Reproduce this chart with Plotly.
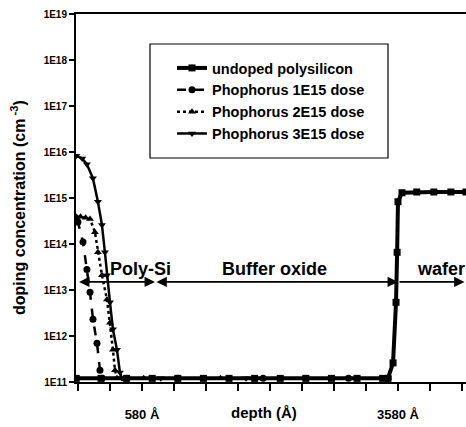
import math
import plotly.graph_objects as go

# ---- data (depth in Angstrom, concentration in cm^-3) ----
undoped_x = [-190, 100, 400, 700, 1000, 1300, 1600, 1900, 2200, 2500, 2800, 3100, 3400, 3463, 3522, 3557, 3570, 3580, 3627, 3800, 4000, 4200, 4377]
undoped_y = [1.2e11, 1.2e11, 1.2e11, 1.2e11, 1.2e11, 1.2e11, 1.2e11, 1.2e11, 1.2e11, 1.2e11, 1.2e11, 1.2e11, 1.2e11, 1.2e11, 2.6e11, 5.4e12, 6.6e13, 8.3e14, 1.3e15, 1.35e15, 1.35e15, 1.35e15, 1.35e15]

p1_x = [-190, -170, -111, -65, -29, 6, 53, 88, 111, 400, 1000, 2000, 3000, 3463]
p1_y = [3.2e14, 3.0e14, 1.1e14, 2.8e13, 8.9e12, 2.3e12, 7.0e11, 1.8e11, 1.2e11, 1.2e11, 1.2e11, 1.2e11, 1.2e11, 1.2e11]

p2_x = [-190, -140, -80, -29, 29, 64, 111, 170, 205, 240, 264, 287, 600, 1500, 2500, 3463]
p2_y = [3.9e14, 3.9e14, 3.7e14, 3.5e14, 1.8e14, 6.6e13, 2.1e13, 6.2e12, 1.95e12, 5.0e11, 1.8e11, 1.2e11, 1.2e11, 1.2e11, 1.2e11, 1.2e11]

p3_x = [-190, -120, -65, 5, 64, 111, 146, 170, 205, 240, 287, 322, 346, 800, 1800, 2800, 3463]
p3_y = [8.3e15, 7.2e15, 5.4e15, 2.7e15, 8.3e14, 2.6e14, 6.6e13, 2.1e13, 5.4e12, 1.4e12, 5.0e11, 1.6e11, 1.2e11, 1.2e11, 1.2e11, 1.2e11, 1.2e11]

series_names = ["undoped polysilicon", "Phophorus 1E15 dose", "Phophorus 2E15 dose", "Phophorus 3E15 dose"]

y_tickvals = [1e11, 1e12, 1e13, 1e14, 1e15, 1e16, 1e17, 1e18, 1e19]
y_ticktext = ["1E11", "1E12", "1E13", "1E14", "1E15", "1E16", "1E17", "1E18", "1E19"]
x_tickvals = [580, 3580]
x_ticktext = ["580 Å", "3580 Å"]
x_minor_ticks = [-170, 205, 955, 1330, 1705, 2080, 2455, 2830, 3205, 3955, 4330]

# region markers (depth boundaries and level of the arrow line)
region_edges = [-175, 732, 3580, 4360]
region_names = ["Poly-Si", "Buffer oxide", "wafer"]
region_label_x = [560, 2130, 4080]
region_level = 1.5e13

# ---- layout geometry helpers (pixels) ----
W, H = 466, 427
L, R, T, B = 76, 466, 14, 382
def px(xp): return (xp - L) / (R - L)
def py(yp): return (B - yp) / (B - T)

FONT = "Liberation Sans"
fig = go.Figure()
styles = [
    dict(symbol="square", dash="solid", width=4, size=7),
    dict(symbol="circle", dash="dash", width=2.5, size=7),
    dict(symbol="triangle-up", dash="dot", width=2.5, size=7),
    dict(symbol="triangle-down", dash="solid", width=2.5, size=7),
]
for xs, ys, name, st in zip([undoped_x, p1_x, p2_x, p3_x], [undoped_y, p1_y, p2_y, p3_y], series_names, styles):
    fig.add_trace(go.Scatter(
        x=xs, y=ys, name=name, mode="lines+markers",
        line=dict(color="black", width=st["width"], dash=st["dash"]),
        marker=dict(symbol=st["symbol"], size=st["size"], color="black"),
    ))

lvl = math.log10(region_level)
for i in range(3):
    x0, x1 = region_edges[i], region_edges[i + 1]
    fig.add_annotation(x=x1, y=lvl, ax=x0, ay=lvl, xref="x", yref="y", axref="x", ayref="y",
                       text="", showarrow=True, arrowhead=2, arrowsize=1.3, arrowwidth=1.6,
                       arrowcolor="black", arrowside="end" if i == 2 else "end+start")
    fig.add_annotation(x=region_label_x[i], y=lvl, xref="x", yref="y", text=region_names[i],
                       showarrow=False, yanchor="bottom", yshift=1,
                       font=dict(family=FONT, size=18, color="black", weight="bold"))

fig.add_annotation(x=px(264), y=py(412), xref="paper", yref="paper", text="depth (Å)",
                   showarrow=False, xanchor="center", yanchor="middle",
                   font=dict(family=FONT, size=15, color="black", weight="bold"))
fig.add_annotation(x=px(18), y=py(208), xref="paper", yref="paper",
                   text="doping concentration (cm<sup> -3</sup>)", textangle=-90,
                   showarrow=False, xanchor="center", yanchor="middle",
                   font=dict(family=FONT, size=16, color="black", weight="bold"))

# legend frame
fig.add_shape(type="rect", xref="paper", yref="paper", x0=px(150), x1=px(388), y0=py(158), y1=py(44),
              line=dict(color="black", width=1.2), fillcolor="rgba(0,0,0,0)")

fig.update_layout(
    width=W, height=H,
    margin=dict(l=L, r=W - R, t=T, b=H - B),
    paper_bgcolor="white", plot_bgcolor="white",
    font=dict(family=FONT, color="black"),
    showlegend=True,
    legend=dict(x=px(172), y=py(52), xanchor="left", yanchor="top", bgcolor="rgba(0,0,0,0)",
                borderwidth=0, font=dict(family=FONT, size=14.5, color="black", weight="bold"),
                itemwidth=30, tracegroupgap=0),
    xaxis=dict(range=[-193, 4377], showgrid=False, zeroline=False, showline=True, linecolor="black",
               linewidth=2, mirror=True, ticks="outside", ticklen=7, tickwidth=1.5, tickcolor="black",
               tickvals=x_tickvals, ticktext=x_ticktext, ticklabelstandoff=12,
               tickfont=dict(family=FONT, size=13, color="black", weight="bold"),
               minor=dict(tickvals=x_minor_ticks, ticks="outside", ticklen=7, tickwidth=1.5,
                          tickcolor="black", showgrid=False)),
    yaxis=dict(type="log", range=[11, 19], showgrid=False, zeroline=False, showline=True,
               linecolor="black", linewidth=2, mirror=False, ticks="outside", ticklen=5, tickwidth=1.5,
               tickcolor="black", tickvals=y_tickvals, ticktext=y_ticktext,
               tickfont=dict(family=FONT, size=10, color="black", weight="bold")),
)

fig.write_html("out.html")
